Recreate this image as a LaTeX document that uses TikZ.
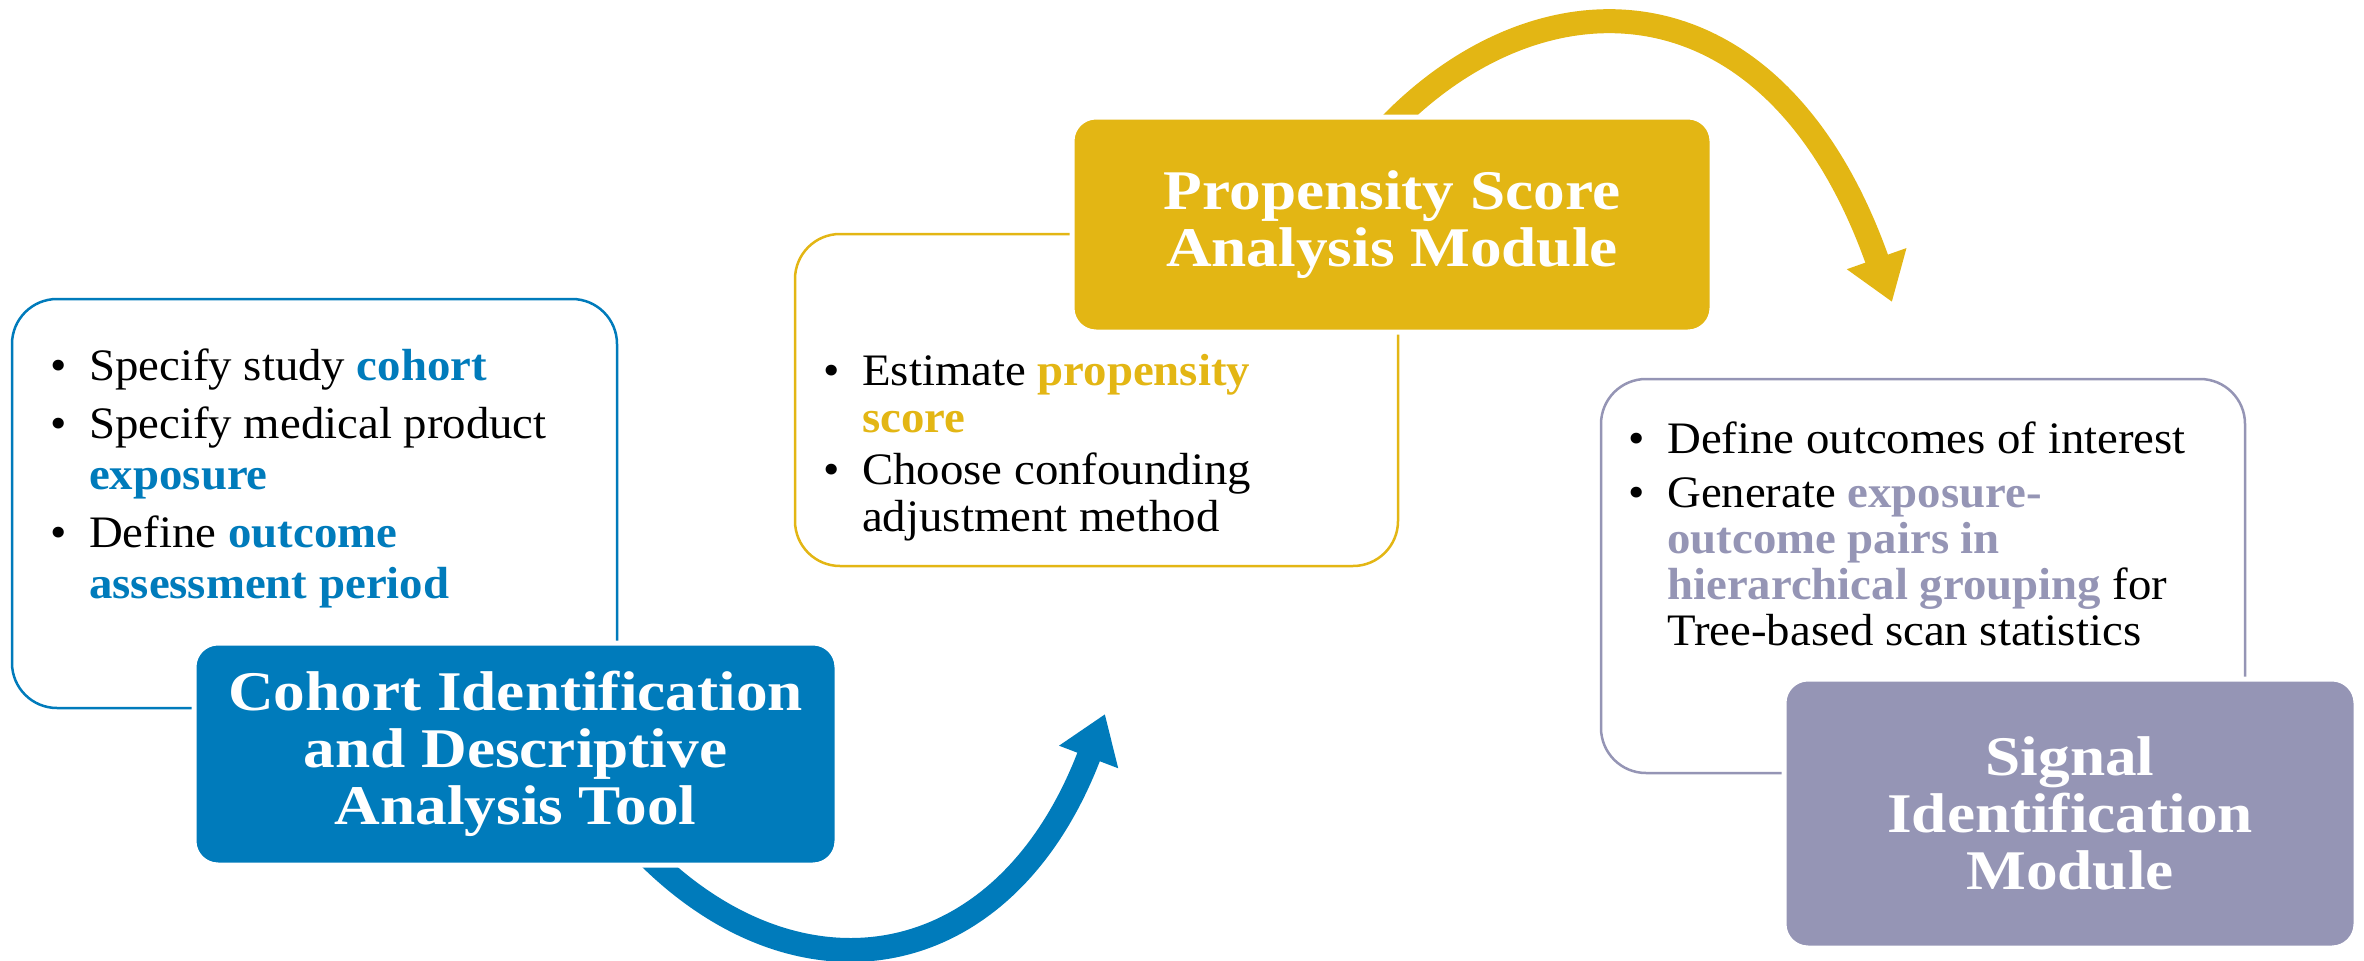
\documentclass[tikz,border=0pt]{standalone}
\usepackage{fontspec}
\setmainfont{Liberation Serif}[FakeStretch=1.04]
\newfontfamily\headfont{Liberation Serif}[FakeStretch=1.13]
\usepackage{tikz}
\usetikzlibrary{arrows.meta}

\definecolor{toolblue}{RGB}{0,123,187}
\definecolor{psgold}{RGB}{227,182,20}
\definecolor{siglav}{RGB}{149,149,181}
\newcommand{\bul}{\llap{\textbullet\hspace{22pt}}}
\newcommand{\kw}[2]{\textcolor{#1}{\bfseries #2}}

\begin{document}
\begin{tikzpicture}[x=1pt,y=-1pt,
  panel/.style={draw=#1,line width=2.5pt,fill=white,rounded corners=45pt,inner sep=0pt},
  head/.style={fill=#1,draw=white,line width=5pt,rounded corners=24pt,inner sep=0pt,
    text=white,align=center,font=\headfont\bfseries\fontsize{56}{57}\selectfont},
  body/.style={anchor=base west,inner sep=0pt,font=\fontsize{45}{#1}\selectfont},
  flow/.style={draw=#1,line width=24pt,-{Triangle[length=46pt,width=60pt]}}]
  \useasboundingbox (0,0) rectangle (2364,961);

  % outlined panels with the task lists
  \node[panel=toolblue,minimum width=605pt,minimum height=409pt] (cohortBox) at (314.5,503.5) {};
  \node[panel=psgold,minimum width=603pt,minimum height=332pt] (psBox) at (1096.5,400) {};
  \node[panel=siglav,minimum width=644pt,minimum height=394pt] (sigBox) at (1923,576) {};

  \node[body=51] (cohortTxt) at (89,380) {\begin{tabular}[t]{@{}l@{}}
    \bul Specify study \kw{toolblue}{cohort}\\[7pt]
    \bul Specify medical product\\
    \kw{toolblue}{exposure}\\[7pt]
    \bul Define \kw{toolblue}{outcome}\\
    \kw{toolblue}{assessment period}
  \end{tabular}};
  \node[body=47] (psTxt) at (862,385) {\begin{tabular}[t]{@{}l@{}}
    \bul Estimate \kw{psgold}{propensity}\\
    \kw{psgold}{score}\\[5pt]
    \bul Choose confounding\\
    adjustment method
  \end{tabular}};
  \node[body=46] (sigTxt) at (1667,453) {\begin{tabular}[t]{@{}l@{}}
    \bul Define outcomes of interest\\[8pt]
    \bul Generate \kw{siglav}{exposure-}\\
    \kw{siglav}{outcome pairs in}\\
    \kw{siglav}{hierarchical grouping} for\\
    Tree-based scan statistics
  \end{tabular}};

  % curved arrows, tails hidden under the headers
  \coordinate (cohortTail) at (647,855);
  \coordinate (cohortTip) at (1105,714);
  \coordinate (psTail) at (1390,125);
  \coordinate (psTip) at (1892,302);
  \draw[flow=toolblue] (cohortTail) .. controls (801,1009) and (1005,976) .. (cohortTip);
  \draw[flow=psgold] (psTail) .. controls (1544,-33) and (1775,-28) .. (psTip);

  % filled headers
  \node[head=toolblue,minimum width=643pt,minimum height=222pt] (cohortHead) at (515.5,754)
    {Cohort Identification\\and Descriptive\\Analysis Tool};
  \node[head=psgold,minimum width=640pt,minimum height=215pt] (psHead) at (1392,224.5)
    {Propensity Score\\Analysis Module};
  \node[head=siglav,minimum width=572pt,minimum height=269pt] (sigHead) at (2070,813.5)
    {Signal\\Identification\\Module};
\end{tikzpicture}
\end{document}
